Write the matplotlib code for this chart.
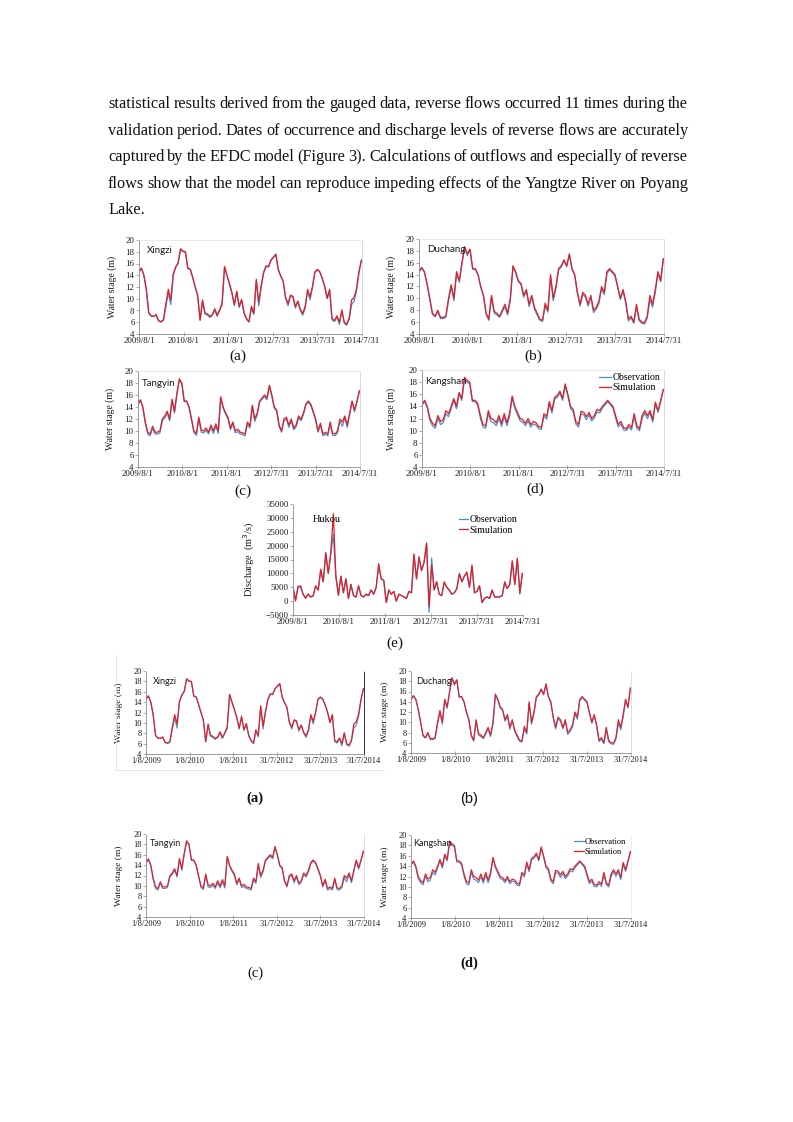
import matplotlib
matplotlib.use('Agg')
import matplotlib.pyplot as plt
from matplotlib.lines import Line2D
import pandas as pd

plt.rcParams['font.family'] = ['Liberation Serif', 'DejaVu Serif']

W, H, DPI = 793, 1122, 100

paragraph = [
    "statistical results derived from the gauged data, reverse flows occurred 11 times during the",
    "validation period. Dates of occurrence and discharge levels of reverse flows are accurately",
    "captured by the EFDC model (Figure 3). Calculations of outflows and especially of reverse",
    "flows show that the model can reproduce impeding effects of the Yangtze River on Poyang",
    "Lake.",
]

dates = pd.date_range('2009-08-01', periods=92, freq='20D')
x_end = pd.Timestamp('2014-07-31')
tick_dates = pd.to_datetime(['2009-08-01', '2010-08-01', '2011-08-01',
                             '2012-07-31', '2013-07-31', '2014-07-31'])
tick_labels_top = ['2009/8/1', '2010/8/1', '2011/8/1', '2012/7/31', '2013/7/31', '2014/7/31']
tick_labels_bot = ['1/8/2009', '1/8/2010', '1/8/2011', '31/7/2012', '31/7/2013', '31/7/2014']
stage_ticks = [4, 6, 8, 10, 12, 14, 16, 18, 20]
discharge_ticks = [-5000, 0, 5000, 10000, 15000, 20000, 25000, 30000, 35000]

xingzi_obs = [14.5, 15.2, 14.0, 11.5, 7.5, 7.0, 7.0, 7.2, 6.2, 6.0,
              6.3, 8.7, 11.0, 9.0, 14.0, 15.3, 16.0, 18.4, 18.0, 17.9,
              15.1, 15.0, 13.5, 12.0, 10.5, 6.3, 9.5, 7.4, 7.2, 6.8,
              7.2, 8.0, 7.0, 8.0, 8.9, 15.4, 13.9, 12.5, 11.0, 8.8,
              11.0, 8.5, 9.7, 7.5, 6.5, 6.0, 8.3, 7.3, 13.0, 8.8,
              12.0, 14.4, 15.5, 15.4, 16.5, 17.0, 17.5, 14.9, 13.8, 12.9,
              10.0, 8.8, 10.5, 10.2, 8.4, 9.5, 8.0, 7.2, 8.4, 11.3,
              9.8, 12.0, 14.5, 14.9, 14.5, 13.4, 12.0, 10.0, 11.4, 6.4,
              6.1, 6.9, 5.6, 7.9, 5.8, 5.5, 6.5, 9.0, 9.6, 11.3,
              14.4, 16.5]
xingzi_sim = [14.6, 15.2, 14.0, 11.6, 7.6, 7.1, 7.0, 7.3, 6.3, 6.1,
              6.4, 9.2, 11.6, 9.8, 14.2, 15.4, 16.1, 18.5, 18.1, 18.0,
              15.2, 15.0, 13.6, 12.0, 10.6, 6.4, 9.8, 7.6, 7.4, 7.0,
              7.3, 8.3, 7.2, 8.1, 9.3, 15.5, 14.0, 12.6, 11.1, 9.0,
              11.3, 8.7, 9.9, 7.6, 6.6, 6.1, 8.7, 7.6, 13.3, 9.4,
              12.2, 14.5, 15.6, 15.5, 16.6, 17.1, 17.6, 15.0, 13.9, 13.0,
              10.2, 9.2, 10.6, 10.4, 8.7, 9.6, 8.2, 7.5, 8.7, 11.6,
              10.3, 12.1, 14.6, 15.0, 14.6, 13.5, 12.1, 10.1, 11.6, 6.6,
              6.3, 7.1, 6.0, 8.1, 6.0, 5.7, 6.7, 9.8, 10.2, 11.7,
              14.6, 16.6]

duchang_obs = [14.4, 15.1, 14.4, 12.4, 9.9, 7.3, 6.9, 7.8, 6.6, 6.6,
               6.8, 9.6, 11.9, 9.6, 14.2, 12.7, 15.8, 18.5, 17.2, 18.2,
               14.9, 14.9, 13.9, 11.9, 10.4, 7.3, 6.3, 10.2, 7.5, 7.2,
               6.8, 7.7, 8.6, 7.2, 9.6, 15.3, 14.3, 12.8, 12.3, 10.2,
               11.2, 8.6, 10.2, 8.2, 7.2, 6.3, 6.1, 8.7, 7.7, 13.6,
               9.6, 11.7, 14.8, 15.3, 16.3, 15.3, 17.3, 14.9, 13.8, 10.8,
               8.7, 10.7, 10.2, 8.7, 10.2, 7.6, 8.2, 9.1, 11.6, 10.6,
               14.2, 14.8, 14.3, 13.8, 11.8, 9.8, 11.2, 9.2, 6.2, 6.7,
               5.8, 8.5, 6.2, 5.8, 5.7, 6.7, 9.8, 8.5, 11.0, 14.2,
               12.8, 16.6]
duchang_sim = [14.5, 15.2, 14.5, 12.5, 10.0, 7.5, 7.0, 8.0, 6.8, 6.8,
               7.0, 10.0, 12.3, 10.0, 14.5, 13.0, 16.0, 18.7, 17.5, 18.3,
               15.0, 15.0, 14.0, 12.0, 10.5, 7.5, 6.5, 10.5, 7.8, 7.5,
               7.0, 8.0, 9.0, 7.5, 10.0, 15.5, 14.5, 13.0, 12.5, 10.5,
               11.5, 9.0, 10.5, 8.5, 7.5, 6.5, 6.3, 9.2, 8.0, 14.0,
               10.0, 12.0, 15.0, 15.5, 16.5, 15.5, 17.5, 15.0, 14.0, 11.0,
               9.0, 11.0, 10.5, 9.0, 10.5, 8.0, 8.5, 9.5, 12.0, 11.0,
               14.5, 15.0, 14.5, 14.0, 12.0, 10.0, 11.5, 9.5, 6.5, 7.0,
               6.0, 9.0, 6.5, 6.0, 5.9, 7.0, 10.5, 9.0, 11.5, 14.5,
               13.0, 16.7]

tangyin_obs = [14.4, 15.1, 13.9, 11.3, 9.5, 9.2, 10.5, 9.5, 9.5, 9.7,
               11.7, 12.2, 13.0, 11.7, 15.0, 13.0, 16.1, 18.5, 17.9, 14.9,
               14.9, 13.9, 11.8, 9.7, 9.3, 12.0, 9.8, 9.7, 10.1, 9.5,
               10.6, 9.6, 10.8, 9.6, 15.4, 13.8, 12.8, 12.0, 10.2, 11.2,
               9.7, 9.9, 9.5, 9.4, 9.2, 11.1, 10.5, 14.0, 11.6, 12.7,
               14.8, 15.3, 15.7, 15.2, 17.4, 15.8, 13.8, 13.3, 10.8, 9.8,
               11.7, 12.0, 10.6, 11.7, 10.2, 10.7, 12.2, 11.7, 12.7, 14.3,
               14.8, 14.3, 13.1, 11.8, 9.8, 11.0, 9.2, 9.5, 9.2, 11.1,
               9.3, 9.2, 9.7, 11.6, 10.8, 12.2, 10.6, 12.7, 14.8, 13.2,
               14.8, 16.6]
tangyin_sim = [14.5, 15.2, 14.0, 11.5, 9.8, 9.5, 10.8, 9.8, 9.8, 10.0,
               12.0, 12.5, 13.3, 12.0, 15.3, 13.3, 16.3, 18.7, 18.0, 15.0,
               15.0, 14.0, 12.0, 10.0, 9.6, 12.3, 10.2, 10.0, 10.5, 9.8,
               11.0, 10.0, 11.2, 10.0, 15.7, 14.0, 13.0, 12.3, 10.5, 11.5,
               10.0, 10.3, 9.8, 9.7, 9.5, 11.5, 10.8, 14.3, 12.0, 13.0,
               15.0, 15.5, 16.0, 15.5, 17.6, 16.0, 14.0, 13.5, 11.0, 10.0,
               12.0, 12.3, 11.0, 12.0, 10.5, 11.0, 12.5, 12.0, 13.0, 14.5,
               15.0, 14.5, 13.3, 12.0, 10.0, 11.3, 9.5, 9.8, 9.5, 11.5,
               9.6, 9.5, 10.0, 12.0, 11.5, 12.5, 11.0, 13.0, 15.0, 13.5,
               15.0, 16.7]

kangshan_obs = [14.2, 14.8, 13.7, 11.6, 10.8, 10.4, 12.1, 11.0, 11.3, 12.8,
                12.3, 13.6, 15.0, 13.6, 16.0, 15.0, 18.4, 18.0, 17.7, 14.8,
                14.8, 14.2, 12.1, 10.6, 10.4, 12.8, 11.5, 11.3, 10.8, 12.0,
                10.7, 12.3, 10.8, 12.3, 15.4, 13.7, 12.6, 11.6, 11.4, 10.8,
                11.6, 10.6, 11.1, 10.9, 10.3, 10.2, 12.4, 11.9, 14.4, 12.9,
                15.2, 15.5, 16.2, 15.0, 17.4, 15.7, 13.7, 13.1, 11.1, 10.6,
                12.8, 12.6, 11.8, 12.6, 11.6, 12.1, 13.1, 12.9, 13.7, 14.2,
                14.8, 14.3, 13.7, 12.1, 10.6, 11.1, 10.1, 10.0, 10.6, 10.1,
                12.3, 10.4, 10.0, 12.0, 12.9, 12.0, 12.9, 11.4, 14.4, 13.0,
                14.8, 16.7]
kangshan_sim = [14.3, 15.0, 14.0, 12.0, 11.2, 10.8, 12.5, 11.5, 11.8, 13.3,
                12.8, 14.0, 15.3, 14.0, 16.3, 15.3, 18.8, 18.3, 18.0, 15.0,
                15.0, 14.5, 12.5, 11.0, 10.8, 13.3, 12.0, 11.8, 11.3, 12.5,
                11.2, 12.8, 11.3, 12.8, 15.7, 14.0, 13.0, 12.0, 11.8, 11.2,
                12.0, 11.0, 11.5, 11.3, 10.7, 10.5, 12.8, 12.3, 14.8, 13.3,
                15.5, 15.8, 16.5, 15.3, 17.7, 16.0, 14.0, 13.5, 11.5, 11.0,
                13.2, 13.0, 12.3, 13.0, 12.0, 12.5, 13.5, 13.3, 14.0, 14.5,
                15.0, 14.5, 14.0, 12.5, 11.0, 11.5, 10.5, 10.3, 11.0, 10.5,
                12.8, 10.8, 10.3, 12.5, 13.3, 12.5, 13.3, 11.8, 14.7, 13.3,
                15.0, 16.8]

hukou_obs = [5000, 500, 5500, 5000, 2500, 1200, 2500, 1500, 1800, 5500,
             4000, 11000, 7000, 17000, 10000, 17000, 24000, 9000, 2500, 9000,
             3000, 8000, 1000, 6000, 2000, 1500, 5500, 2000, 1500, 2500,
             2000, 4000, 2500, 5000, 12500, 8000, 7500, -500, 4000, 2500,
             3500, 0, 2500, 2000, 1500, 1000, 3500, 3000, 16500, 8000,
             15500, 11000, 14000, 20500, -4000, 15500, 4000, 7000, 2500, 2000,
             6500, 5000, 4000, 2500, 3000, 4500, 9500, 7000, 9000, 10000,
             5000, 12500, 3000, 3500, 5500, -500, 1000, 1500, 1000, 4000,
             1500, 1500, 1500, 2000, 6500, 4500, 6000, 14000, 6000, 15000,
             2500, 10000]
hukou_sim = [5000, 0, 5000, 5500, 2500, 1000, 2500, 1500, 2000, 5500,
             4000, 11500, 7000, 17500, 10000, 17500, 31500, 9000, 2000, 9000,
             3000, 8000, 1000, 6000, 2000, 1500, 5500, 2000, 1500, 2500,
             2000, 4000, 2500, 5000, 13500, 8000, 7500, -500, 4000, 2500,
             3500, 0, 2500, 2000, 1500, 1000, 3500, 3000, 17000, 8000,
             16000, 11000, 14000, 21000, -2000, 13000, 4000, 7000, 2500, 2000,
             7000, 5000, 4000, 2500, 3000, 4500, 10000, 7000, 9000, 10500,
             5000, 13000, 3000, 3500, 5500, -500, 1000, 1500, 1000, 4000,
             1500, 1500, 1500, 2000, 7000, 4500, 6000, 14500, 6000, 15500,
             3000, 10000]

OBS_C = '#4a90d2'
SIM_C = '#e41c23'

fig = plt.figure(figsize=(W / DPI, H / DPI), dpi=DPI)
fig.patch.set_facecolor('white')


def px_ax(l, t, r, b):
    return fig.add_axes([l / W, 1 - b / H, (r - l) / W, (b - t) / H])


def style_axes(ax, labels, ylim, yticks, right_color='#d9d9d9', top_color='#e6e6e6', lsize=6.4):
    ax.set_xlim(dates[0], x_end)
    ax.set_ylim(*ylim)
    ax.set_yticks(yticks)
    ax.set_xticks(tick_dates)
    ax.set_xticklabels(labels)
    ax.tick_params(axis='both', labelsize=lsize, length=2, width=0.5, color='#8c8c8c',
                   pad=1.2, labelcolor='#1a1a1a')
    ax.tick_params(axis='x', direction='inout', length=2.5)
    for s in ('left', 'bottom'):
        ax.spines[s].set_color('#8c8c8c')
        ax.spines[s].set_linewidth(0.6)
    ax.spines['right'].set_color(right_color)
    ax.spines['right'].set_linewidth(0.7)
    ax.spines['top'].set_color(top_color)
    ax.spines['top'].set_linewidth(0.6)
    for lab in ax.get_xticklabels() + ax.get_yticklabels():
        lab.set_fontfamily(['Liberation Serif'])


def ylabel_at(ax, text, xpix, size=7.0):
    bb = ax.get_position()
    xa = (xpix / W - bb.x0) / bb.width
    ax.set_ylabel(text, fontsize=size, family=['Liberation Serif'], color='#1a1a1a')
    ax.yaxis.set_label_coords(xa, 0.5)


def station(ax, name, xpix, ypix, family=('Lato', 'DejaVu Sans'), size=7.0):
    fig.text(xpix / W, 1 - ypix / H, name, fontsize=size, family=list(family),
             va='center', ha='left', color='#1a1a1a')


def fig_label(text, xpix, ypix, family=('Liberation Serif',), size=11, weight='normal'):
    fig.text(xpix / W, 1 - ypix / H, text, fontsize=size, family=list(family),
             va='center', ha='center', color='#111111', weight=weight)


def draw_series(ax, obs, sim, lw=0.9):
    ax.plot(dates, obs, color=OBS_C, lw=lw, label='Observation')
    ax.plot(dates, sim, color=SIM_C, lw=lw, label='Simulation')


def add_legend(ax, xa, ya, size=7.0, hl=1.3):
    handles = [Line2D([], [], color=OBS_C, lw=0.9), Line2D([], [], color=SIM_C, lw=0.9)]
    ax.legend(handles, ['Observation', 'Simulation'], loc='upper left',
              bbox_to_anchor=(xa, ya), frameon=False, handlelength=hl,
              handletextpad=0.1, labelspacing=0.15, borderpad=0, borderaxespad=0,
              prop={'family': 'Liberation Serif', 'size': size})


stations = [
    ('Xingzi', xingzi_obs, xingzi_sim),
    ('Duchang', duchang_obs, duchang_sim),
    ('Tangyin', tangyin_obs, tangyin_sim),
    ('Kangshan', kangshan_obs, kangshan_sim),
]

# ---------------- top block (a)-(e)
top_boxes = [(139, 240, 362, 334), (419, 239, 664, 334), (138, 371, 360, 467), (422, 370, 664, 467)]
top_ylabx = [117, 396, 115, 396]
top_name_xy = [(147, 251), (427, 249), (142, 383), (425, 382)]
top_fig_lbl = [('(a)', 238, 356), ('(b)', 533, 356), ('(c)', 243, 491), ('(d)', 535, 489)]

for k, (name, obs, sim) in enumerate(stations):
    ax = px_ax(*top_boxes[k])
    draw_series(ax, obs, sim)
    style_axes(ax, tick_labels_top, (4, 20), stage_ticks)
    ylabel_at(ax, 'Water stage (m)', top_ylabx[k])
    station(ax, name, *top_name_xy[k])
    if name == 'Kangshan':
        add_legend(ax, 0.73, 0.97)
    t, xl, yl = top_fig_lbl[k]
    fig_label(t, xl, yl)

ax = px_ax(293, 504, 523, 615)
ax.plot(dates, hukou_obs, color=OBS_C, lw=0.9)
ax.plot(dates, hukou_sim, color=SIM_C, lw=0.9)
style_axes(ax, tick_labels_top, (-5000, 35000), discharge_ticks, right_color='#ffffff', top_color='#ffffff')
ylabel_at(ax, 'Discharge  (m$^3$/s)', 257, size=7.5)
fig.text(313 / W, 1 - 519 / H, 'Hukou', fontsize=7.5, family=['Liberation Serif'], va='center')
add_legend(ax, 0.72, 0.90, size=7.0, hl=1.0)
fig_label('(e)', 395, 643)

# ---------------- bottom block (a)-(d)
bot_boxes = [(146, 671, 364, 754), (411, 671, 631, 753), (146, 834, 364, 917), (411, 835, 631, 918)]
bot_ylabx = [123, 389, 123, 389]
bot_name_xy = [(153, 681), (416, 681), (150, 844), (413, 844)]
bot_right = ['#333333', '#dddddd', '#dddddd', '#eeeeee']
bot_fig_lbl = [('(a)', 255, 798, ('Liberation Serif',), 'bold'),
               ('(b)', 469, 799, ('Liberation Sans',), 'normal'),
               ('(c)', 255, 973, ('Liberation Serif',), 'normal'),
               ('(d)', 469, 963, ('Liberation Serif',), 'bold')]

for k, (name, obs, sim) in enumerate(stations):
    ax = px_ax(*bot_boxes[k])
    draw_series(ax, obs, sim, lw=0.85)
    style_axes(ax, tick_labels_bot, (4, 20), stage_ticks, right_color=bot_right[k],
               top_color='#ffffff', lsize=6.0)
    ylabel_at(ax, 'Water stage (m)', bot_ylabx[k], size=6.8)
    station(ax, name, *bot_name_xy[k], size=6.5)
    if name == 'Kangshan':
        add_legend(ax, 0.74, 0.96, size=6.0, hl=1.2)
    t, xl, yl, fam, wt = bot_fig_lbl[k]
    fig_label(t, xl, yl, family=fam, size=10.5, weight=wt)

# faint chart-area borders of the lower embedded charts
fig.add_artist(Line2D([116 / W, 116 / W], [1 - 655 / H, 1 - 770 / H], color='#e4e4e4', lw=0.6))
fig.add_artist(Line2D([116 / W, 384 / W], [1 - 770 / H, 1 - 770 / H], color='#e4e4e4', lw=0.6))

# ---------------- paragraph (justified)
fig.canvas.draw()
renderer = fig.canvas.get_renderer()
X0, X1 = 108, 688
line_y = [104, 131, 157, 184, 210]

probe = fig.text(0, 0, paragraph[0], fontsize=12, family=['Liberation Serif'])
w12 = probe.get_window_extent(renderer).width
probe.remove()
fs = 12 * (X1 - X0) / w12 * 1.012

for li, line in enumerate(paragraph):
    words = line.split(' ')
    ypos = 1 - (line_y[li] + 4) / H
    if li == len(paragraph) - 1:
        fig.text(X0 / W, ypos, line, fontsize=fs, family=['Liberation Serif'], va='baseline', color='#111111')
        continue
    objs = [fig.text(0, ypos, w, fontsize=fs, family=['Liberation Serif'], va='baseline', color='#111111')
            for w in words]
    widths = [o.get_window_extent(renderer).width for o in objs]
    gap = (X1 - X0 - sum(widths)) / (len(words) - 1)
    xcur = X0
    for o, wd in zip(objs, widths):
        o.set_x(xcur / W)
        xcur += wd + gap

fig.savefig('out.png', dpi=DPI, facecolor='white')
